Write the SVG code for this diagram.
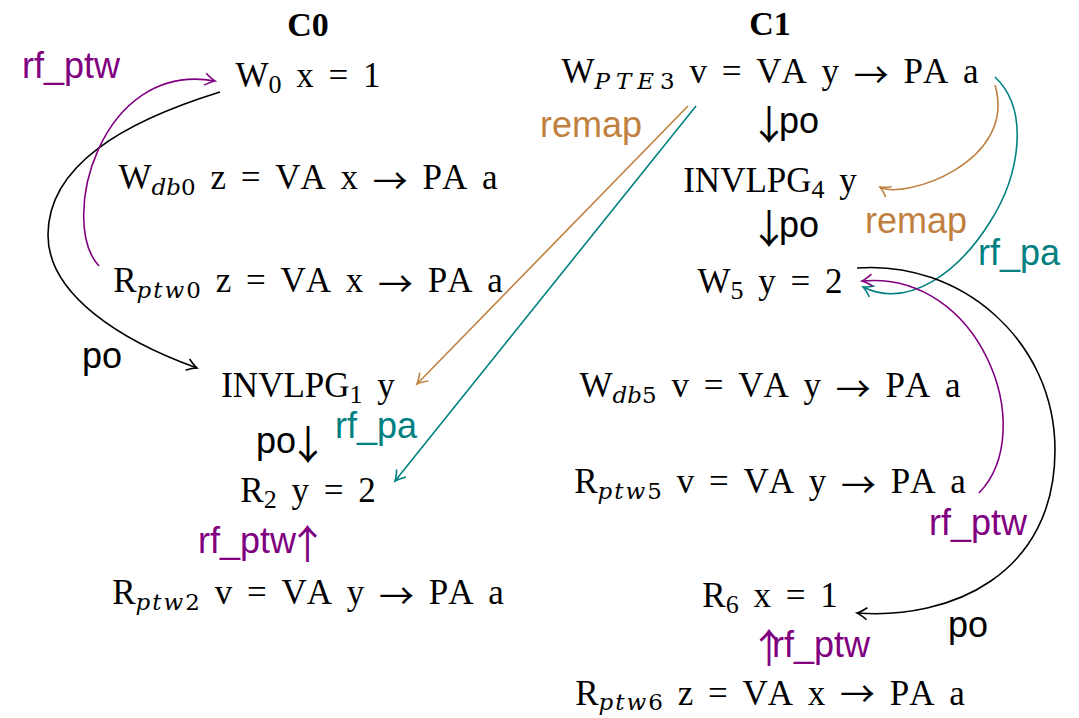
<svg xmlns="http://www.w3.org/2000/svg" width="1079" height="718" viewBox="0 0 1079 718">
<defs>
<style>
.t{font-family:"Liberation Serif","Times New Roman",serif;font-size:35px;fill:#000;word-spacing:6px;text-anchor:middle;font-kerning:none}
.hd{font-family:"Liberation Serif","Times New Roman",serif;font-size:34px;font-weight:bold;text-anchor:middle;fill:#000}
.s{font-size:26px;word-spacing:0}
.m{font-family:"DejaVu Serif",serif;font-size:23px;word-spacing:0}
.i{font-style:italic}
.ar{font-family:"Noto Sans CJK JP","Noto Sans CJK SC","DejaVu Serif",sans-serif;font-size:35px}
.lb{font-family:"Liberation Sans",Arial,sans-serif;font-size:36px}
.ag{font-family:"Noto Sans CJK JP","Noto Sans CJK SC","DejaVu Sans",sans-serif;font-size:40px}
.e{fill:none;stroke-width:1.6}
.k{stroke:#000}.pu{stroke:#800080}.te{stroke:#008080}.br{stroke:#bf8040}
.fk{fill:#000}.fpu{fill:#800080}.fte{fill:#008080}.fbr{fill:#bf8040}
</style>
<marker id="mk" markerUnits="userSpaceOnUse" viewBox="-12 -8 14 16" refX="0" refY="0" markerWidth="14" markerHeight="16" orient="auto" overflow="visible"><path d="M-10,-6 Q-4,-1.5 0,0 Q-4,1.5 -10,6" fill="none" stroke="#000" stroke-width="1.6"/></marker>
<marker id="mpu" markerUnits="userSpaceOnUse" viewBox="-12 -8 14 16" refX="0" refY="0" markerWidth="14" markerHeight="16" orient="auto" overflow="visible"><path d="M-10,-6 Q-4,-1.5 0,0 Q-4,1.5 -10,6" fill="none" stroke="#800080" stroke-width="1.6"/></marker>
<marker id="mte" markerUnits="userSpaceOnUse" viewBox="-12 -8 14 16" refX="0" refY="0" markerWidth="14" markerHeight="16" orient="auto" overflow="visible"><path d="M-10,-6 Q-4,-1.5 0,0 Q-4,1.5 -10,6" fill="none" stroke="#008080" stroke-width="1.6"/></marker>
<marker id="mbr" markerUnits="userSpaceOnUse" viewBox="-12 -8 14 16" refX="0" refY="0" markerWidth="14" markerHeight="16" orient="auto" overflow="visible"><path d="M-10,-6 Q-4,-1.5 0,0 Q-4,1.5 -10,6" fill="none" stroke="#bf8040" stroke-width="1.6"/></marker>
</defs>
<rect width="1079" height="718" fill="#fff"/>

<g id="headers">
<text class="hd" x="308" y="36">C0</text>
<text class="hd" x="770" y="35">C1</text>
</g>

<g id="n-w0"><text class="t" x="308" y="87">W<tspan class="s" dy="6">0</tspan><tspan dy="-6"> x = 1</tspan></text></g>
<g id="n-wdb0"><text class="t" x="308" y="189">W<tspan class="m" dy="6"><tspan class="i">db</tspan>0</tspan><tspan dy="-6"> z = VA x <tspan class="ar" dy="5">→</tspan><tspan dy="-5"> PA a</tspan></tspan></text></g>
<g id="n-rptw0"><text class="t" x="308" y="292">R<tspan class="m" dy="6"><tspan class="i" letter-spacing="2">ptw</tspan>0</tspan><tspan dy="-6"> z = VA x <tspan class="ar" dy="5">→</tspan><tspan dy="-5"> PA a</tspan></tspan></text></g>
<g id="n-invlpg1"><text class="t" x="308" y="397">INVLPG<tspan class="s" dy="6">1</tspan><tspan dy="-6"> y</tspan></text></g>
<g id="n-r2"><text class="t" x="308" y="502">R<tspan class="s" dy="6">2</tspan><tspan dy="-6"> y = 2</tspan></text></g>
<g id="n-rptw2"><text class="t" x="308" y="604">R<tspan class="m" dy="6"><tspan class="i" letter-spacing="2">ptw</tspan>2</tspan><tspan dy="-6"> v = VA y <tspan class="ar" dy="5">→</tspan><tspan dy="-5"> PA a</tspan></tspan></text></g>

<g id="n-wpte3"><text class="t" x="770" y="83">W<tspan class="m" dy="6"><tspan class="i" letter-spacing="6">PTE</tspan>3</tspan><tspan dy="-6"> v = VA y <tspan class="ar" dy="5">→</tspan><tspan dy="-5"> PA a</tspan></tspan></text></g>
<g id="n-invlpg4"><text class="t" x="770" y="192">INVLPG<tspan class="s" dy="6">4</tspan><tspan dy="-6"> y</tspan></text></g>
<g id="n-w5"><text class="t" x="770" y="293">W<tspan class="s" dy="6">5</tspan><tspan dy="-6"> y = 2</tspan></text></g>
<g id="n-wdb5"><text class="t" x="770" y="397">W<tspan class="m" dy="6"><tspan class="i">db</tspan>5</tspan><tspan dy="-6"> v = VA y <tspan class="ar" dy="5">→</tspan><tspan dy="-5"> PA a</tspan></tspan></text></g>
<g id="n-rptw5"><text class="t" x="770" y="493">R<tspan class="m" dy="6"><tspan class="i" letter-spacing="2">ptw</tspan>5</tspan><tspan dy="-6"> v = VA y <tspan class="ar" dy="5">→</tspan><tspan dy="-5"> PA a</tspan></tspan></text></g>
<g id="n-r6"><text class="t" x="770" y="607">R<tspan class="s" dy="6">6</tspan><tspan dy="-6"> x = 1</tspan></text></g>
<g id="n-rptw6"><text class="t" x="770" y="705">R<tspan class="m" dy="5"><tspan class="i" letter-spacing="2">ptw</tspan>6</tspan><tspan dy="-5"> z = VA x <tspan class="ar" dy="2">→</tspan><tspan dy="-2"> PA a</tspan></tspan></text></g>

<g id="connectors">
<path class="e k" d="M220,92 C124.5,121.5 48,165 48,235 C48,295 121.8,341 197,368" marker-end="url(#mk)"/>
<path class="e pu" d="M99,266 C58,222 100,60 215,81" marker-end="url(#mpu)"/>
<path class="e br" d="M688,106 L417,384" marker-end="url(#mbr)"/>
<path class="e te" d="M696,106 L395,481" marker-end="url(#mte)"/>
<path class="e br" d="M995,85 C1018,163 903,200 880,187" marker-end="url(#mbr)"/>
<path class="e te" d="M995,77 C1030,110 1020,175 990,222 C960,270 910,310 863,287" marker-end="url(#mte)"/>
<path class="e pu" d="M979,493 C1040,430 980,270 862,281" marker-end="url(#mpu)"/>
<path class="e k" d="M857,268 C960,260 1055,340 1055,450 C1055,575 950,620 857,613" marker-end="url(#mk)"/>
</g>

<g id="labels">
<text class="lb fpu" x="22" y="78">rf_ptw</text>
<text class="lb fbr" x="540" y="137">remap</text>
<text class="lb fk" x="82" y="368">po</text>
<text class="lb fk" x="256" y="453">po<tspan class="ag" dx="-8" dy="6">↓</tspan></text>
<text class="lb fte" x="335" y="438">rf_pa</text>
<text class="lb fpu" x="198" y="553">rf_ptw<tspan class="ag" dx="-8.5" dy="6">↑</tspan></text>
<text class="lb fk" x="749" y="133"><tspan class="ag" dy="6">↓</tspan><tspan dx="-10" dy="-6">po</tspan></text>
<text class="lb fk" x="749" y="237"><tspan class="ag" dy="6">↓</tspan><tspan dx="-10" dy="-6">po</tspan></text>
<text class="lb fbr" x="865" y="233">remap</text>
<text class="lb fte" x="978" y="265">rf_pa</text>
<text class="lb fpu" x="929" y="535">rf_ptw</text>
<text class="lb fk" x="948" y="637">po</text>
<text class="lb fpu" x="749" y="657"><tspan class="ag" dy="6">↑</tspan><tspan dx="-17" dy="-6">rf_ptw</tspan></text>
</g>
</svg>
